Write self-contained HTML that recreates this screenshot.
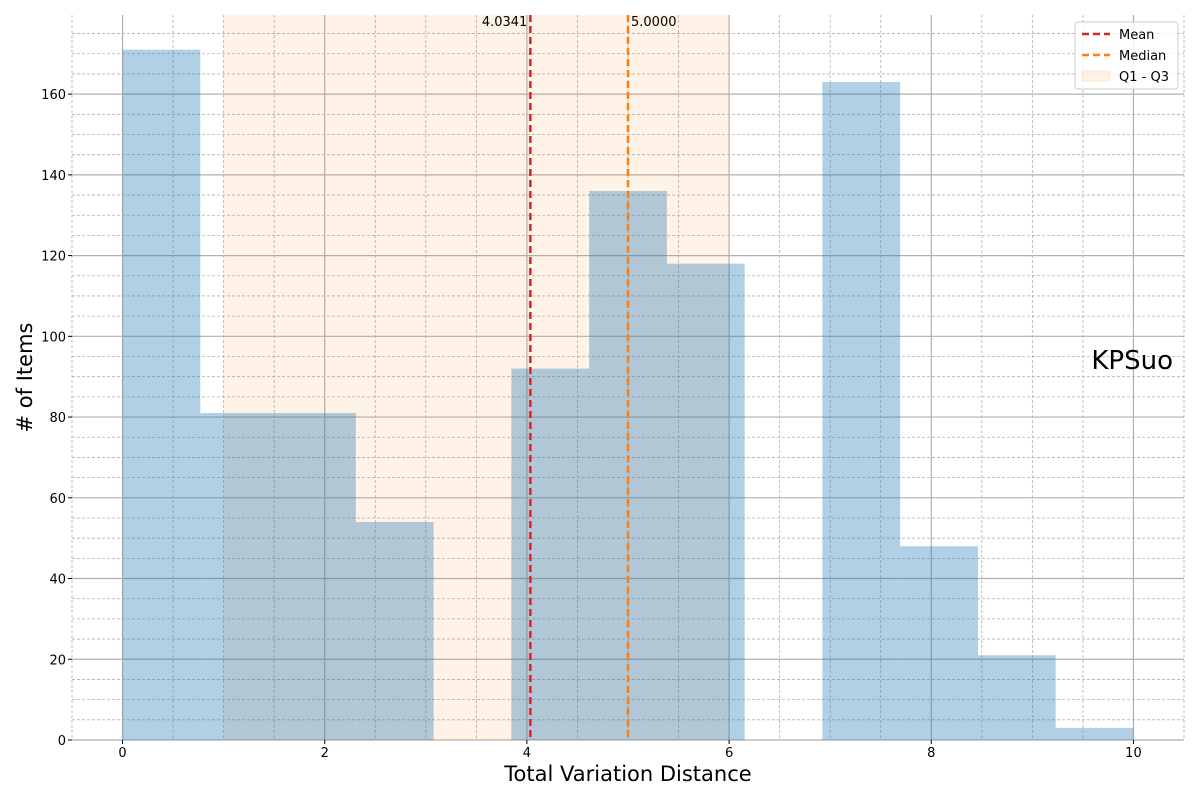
<!DOCTYPE html>
<html><head><meta charset="utf-8"><style>
body{margin:0;background:#fff;font-family:"Liberation Sans","DejaVu Sans",sans-serif}
svg text{font-family:"DejaVu Sans","Liberation Sans",sans-serif}
</style></head><body>
<svg id="chart" width="1200" height="800" xmlns="http://www.w3.org/2000/svg"></svg>
<script>
const binEdges=[0,0.769,1.538,2.308,3.077,3.846,4.615,5.385,6.154,6.923,7.692,8.462,9.231,10];
const counts=[171,81,81,54,0,92,136,118,0,163,48,21,3];
const xTicks=[0,2,4,6,8,10];
const yTicks=[0,20,40,60,80,100,120,140,160];
const meanVal=4.0341, medianVal=5.0, q1=1, q3=6;
const L=72,R=1184,T=15,B=740,xmin=-0.5,xmax=10.5,ymin=0,ymax=179.6;
const sx=v=>L+(v-xmin)/(xmax-xmin)*(R-L);
const sy=v=>B-(v-ymin)/(ymax-ymin)*(B-T);
const svg=document.getElementById('chart');const NS='http://www.w3.org/2000/svg';
function mk(t,a,p){const e=document.createElementNS(NS,t);for(const k in a)e.setAttribute(k,a[k]);(p||svg).appendChild(e);return e;}
// minor grid
for(let v=-0.5;v<=10.5+1e-9;v+=0.5){if(Math.abs(v%2)<1e-9)continue;const g=mk('line',{x1:sx(v),x2:sx(v),y1:T,y2:B,stroke:'#b0b0b0','stroke-width':0.8,'stroke-dasharray':'3,2'});}
for(let v=5;v<ymax;v+=5){if(v%20===0)continue;const g=mk('line',{x1:L,x2:R,y1:sy(v),y2:sy(v),stroke:'#b0b0b0','stroke-width':0.8,'stroke-dasharray':'3,2'});}
xTicks.forEach(v=>{const g=mk('line',{x1:sx(v),x2:sx(v),y1:T,y2:B,stroke:'#b0b0b0','stroke-width':1.2});});
yTicks.forEach(v=>{const g=mk('line',{x1:L,x2:R,y1:sy(v),y2:sy(v),stroke:'#b0b0b0','stroke-width':1.2});});
// span
const sp=mk('rect',{x:sx(q1),y:T,width:sx(q3)-sx(q1),height:B-T,fill:'#ff7f0e','fill-opacity':0.1});

// bars
counts.forEach((c,i)=>{if(!c)return;const r=mk('rect',{x:sx(binEdges[i]),y:sy(c),width:sx(binEdges[i+1])-sx(binEdges[i]),height:sy(0)-sy(c),fill:'#1f77b4','fill-opacity':0.35});});
// lines
const ml=mk('line',{x1:sx(meanVal),x2:sx(meanVal),y1:T,y2:B,stroke:'#d62728','stroke-width':2.5,'stroke-dasharray':'7,4'});
const dl=mk('line',{x1:sx(medianVal),x2:sx(medianVal),y1:T,y2:B,stroke:'#ff7f0e','stroke-width':2.5,'stroke-dasharray':'7,4'});
const mt=mk('text',{x:sx(meanVal)-3,y:26,'text-anchor':'end','font-size':13});mt.textContent=meanVal.toFixed(4);
const dt=mk('text',{x:sx(medianVal)+3,y:26,'font-size':13});dt.textContent=medianVal.toFixed(4);
// ticks
xTicks.forEach(v=>{mk('line',{x1:sx(v),x2:sx(v),y1:B,y2:B+4,stroke:'#000'});const t=mk('text',{x:sx(v),y:B+17,'text-anchor':'middle','font-size':13});t.textContent=v;});
yTicks.forEach(v=>{mk('line',{x1:L-4,x2:L,y1:sy(v),y2:sy(v),stroke:'#000'});const t=mk('text',{x:L-6,y:sy(v)+5,'text-anchor':'end','font-size':13});t.textContent=v;});
const xl=mk('text',{x:(L+R)/2,y:781,'text-anchor':'middle','font-size':21});xl.textContent='Total Variation Distance';
const yl=mk('text',{x:32,y:(T+B)/2,'text-anchor':'middle','font-size':21,transform:`rotate(-90 32 ${(T+B)/2})`});yl.textContent='# of Items';
const kp=mk('text',{x:1173,y:369,'text-anchor':'end','font-size':26});kp.textContent='KPSuo';
// legend
const lg=mk('g',{});
mk('rect',{x:1075,y:22,width:103,height:67,rx:3,fill:'#fff','fill-opacity':0.8,stroke:'#ccc'},lg);
[['Mean','#d62728'],['Median','#ff7f0e']].forEach((d,i)=>{const y=34+i*21;mk('line',{x1:1082,x2:1110,y1:y,y2:y,stroke:d[1],'stroke-width':2.5,'stroke-dasharray':'7,4'},lg);const t=mk('text',{x:1119,y:y+5,'font-size':13},lg);t.textContent=d[0];});
mk('rect',{x:1082,y:71,width:28,height:10,fill:'#ff7f0e','fill-opacity':0.1,stroke:'#ff7f0e','stroke-opacity':0.15},lg);
const t3=mk('text',{x:1119,y:81,'font-size':13},lg);t3.textContent='Q1 - Q3';
</script>
</body></html>
